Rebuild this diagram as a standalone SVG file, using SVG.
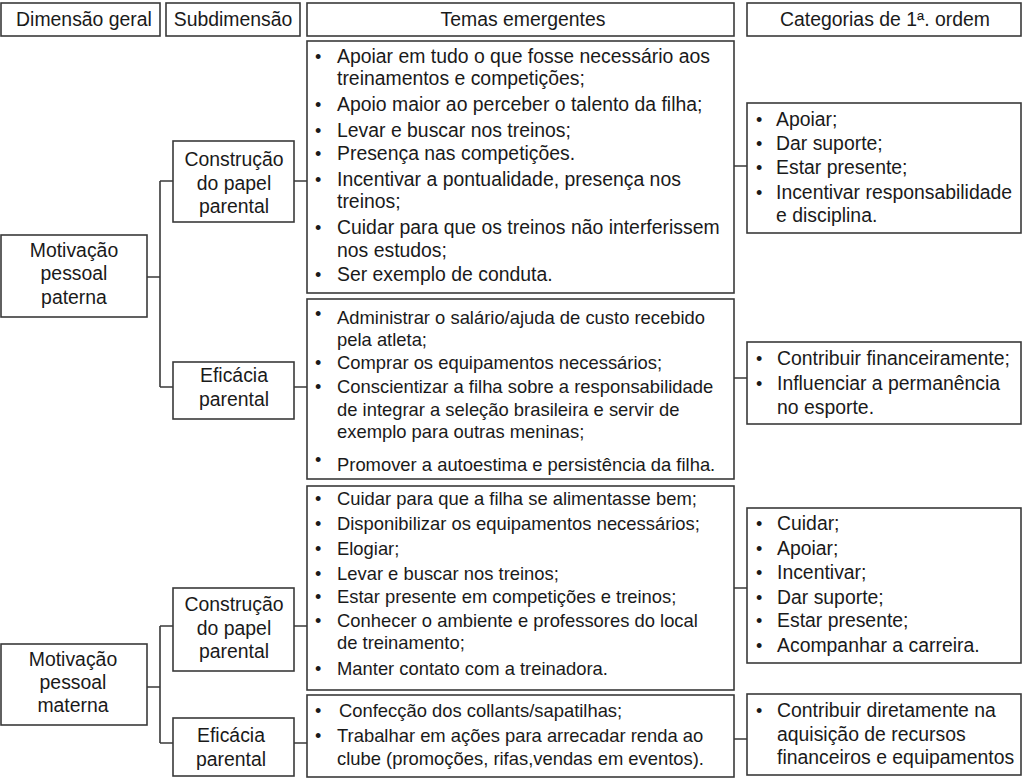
<svg xmlns="http://www.w3.org/2000/svg" width="1024" height="783" viewBox="0 0 1024 783">
<style>
.box{fill:#fff;stroke:#3a3a3a;stroke-width:1.6}
.ln{fill:none;stroke:#3a3a3a;stroke-width:1.6}
text{font-family:"Liberation Sans",Arial,Helvetica,sans-serif;font-size:19.4px;fill:#1a1a1a}
.s text{font-size:18.4px}
.c{text-anchor:middle}
text.b{font-size:18px}
</style>
<rect width="1024" height="783" fill="#fff"/>
<g id="connectors">
<path class="ln" d="M147 277H160M160 181V387M160 181H173M160 387H173"/>
<path class="ln" d="M294 181H307M294 387H307"/>
<path class="ln" d="M734 166H747M734 378H747M734 588H747M734 739H747"/>
<path class="ln" d="M147 687H160M160 626V743M160 626H173M160 743H173"/>
<path class="ln" d="M294 626H307M294 743H307"/>
</g>
<g id="h1"><rect class="box" x="1" y="3" width="159" height="33"/><text class="c" x="84" y="26">Dimensão geral</text></g>
<g id="h2"><rect class="box" x="166" y="3" width="134" height="33"/><text class="c" x="233" y="26">Subdimensão</text></g>
<g id="h3"><rect class="box" x="307" y="3" width="427" height="33"/><text class="c" x="523" y="26">Temas emergentes</text></g>
<g id="h4"><rect class="box" x="747" y="3" width="274" height="33"/><text class="c" x="885" y="26">Categorias de 1ª. ordem</text></g>

<g id="dim-paterna"><rect class="box" x="1" y="235" width="146" height="82"/>
<text class="c" x="74" y="257">Motivação</text><text class="c" x="74" y="280">pessoal</text><text class="c" x="74" y="304">paterna</text></g>
<g id="dim-materna"><rect class="box" x="1" y="644" width="146" height="81"/>
<text class="c" x="73" y="666">Motivação</text><text class="c" x="73" y="689">pessoal</text><text class="c" x="73" y="712">materna</text></g>

<g id="sub-pat-construcao"><rect class="box" x="173" y="141" width="121" height="81"/>
<text class="c" x="234" y="166">Construção</text><text class="c" x="234" y="190">do papel</text><text class="c" x="234" y="213">parental</text></g>
<g id="sub-pat-eficacia"><rect class="box" x="173" y="362" width="121" height="57"/>
<text class="c" x="234" y="382">Eficácia</text><text class="c" x="234" y="406">parental</text></g>
<g id="sub-mat-construcao"><rect class="box" x="173" y="588" width="121" height="83"/>
<text class="c" x="234" y="611">Construção</text><text class="c" x="234" y="635">do papel</text><text class="c" x="234" y="658">parental</text></g>
<g id="sub-mat-eficacia"><rect class="box" x="173" y="718" width="121" height="58"/>
<text class="c" x="231" y="742">Eficácia</text><text class="c" x="231" y="766">parental</text></g>

<g id="temas-pat-construcao"><rect class="box" x="307" y="41" width="427" height="252"/>
<text class="b" x="315" y="63">•</text><text x="337" y="63">Apoiar em tudo o que fosse necessário aos</text>
<text x="337" y="85">treinamentos e competições;</text>
<text class="b" x="315" y="111">•</text><text x="337" y="111">Apoio maior ao perceber o talento da filha;</text>
<text class="b" x="315" y="137">•</text><text x="337" y="137">Levar e buscar nos treinos;</text>
<text class="b" x="315" y="160">•</text><text x="337" y="160">Presença nas competições.</text>
<text class="b" x="315" y="186">•</text><text x="337" y="186">Incentivar a pontualidade, presença nos</text>
<text x="337" y="208">treinos;</text>
<text class="b" x="315" y="234">•</text><text x="337" y="234">Cuidar para que os treinos não interferissem</text>
<text x="337" y="257">nos estudos;</text>
<text class="b" x="315" y="281">•</text><text x="337" y="281">Ser exemplo de conduta.</text>
</g>
<g id="temas-pat-eficacia" class="s"><rect class="box" x="307" y="299" width="427" height="180"/>
<text class="b" x="315" y="320">•</text><text x="337" y="324">Administrar o salário/ajuda de custo recebido</text>
<text x="337" y="346">pela atleta;</text>
<text class="b" x="315" y="369">•</text><text x="337" y="369">Comprar os equipamentos necessários;</text>
<text class="b" x="315" y="393">•</text><text x="337" y="393">Conscientizar a filha sobre a responsabilidade</text>
<text x="337" y="416">de integrar a seleção brasileira e servir de</text>
<text x="337" y="438">exemplo para outras meninas;</text>
<text class="b" x="315" y="466">•</text><text x="337" y="471">Promover a autoestima e persistência da filha.</text>
</g>
<g id="temas-mat-construcao" class="s"><rect class="box" x="307" y="486" width="427" height="204"/>
<text class="b" x="315" y="505">•</text><text x="337" y="505">Cuidar para que a filha se alimentasse bem;</text>
<text class="b" x="315" y="530">•</text><text x="337" y="530">Disponibilizar os equipamentos necessários;</text>
<text class="b" x="315" y="555">•</text><text x="337" y="555">Elogiar;</text>
<text class="b" x="315" y="580">•</text><text x="337" y="580">Levar e buscar nos treinos;</text>
<text class="b" x="315" y="603">•</text><text x="337" y="603">Estar presente em competições e treinos;</text>
<text class="b" x="315" y="627">•</text><text x="337" y="627">Conhecer o ambiente e professores do local</text>
<text x="337" y="649">de treinamento;</text>
<text class="b" x="315" y="675">•</text><text x="337" y="675">Manter contato com a treinadora.</text>
</g>
<g id="temas-mat-eficacia" class="s"><rect class="box" x="307" y="695" width="427" height="82"/>
<text class="b" x="315" y="717">•</text><text x="339" y="717">Confecção dos collants/sapatilhas;</text>
<text class="b" x="315" y="742">•</text><text x="337" y="742">Trabalhar em ações para arrecadar renda ao</text>
<text x="337" y="765">clube (promoções, rifas,vendas em eventos).</text>
</g>

<g id="cat-pat-construcao"><rect class="box" x="747" y="103" width="274" height="130"/>
<text class="b" x="756" y="126">•</text><text x="776" y="126">Apoiar;</text>
<text class="b" x="756" y="150">•</text><text x="776" y="150">Dar suporte;</text>
<text class="b" x="756" y="174">•</text><text x="776" y="174">Estar presente;</text>
<text class="b" x="756" y="199">•</text><text x="776" y="199">Incentivar responsabilidade</text>
<text x="776" y="222">e disciplina.</text>
</g>
<g id="cat-pat-eficacia"><rect class="box" x="747" y="342" width="274" height="82"/>
<text class="b" x="756" y="365">•</text><text x="777" y="365">Contribuir financeiramente;</text>
<text class="b" x="756" y="390">•</text><text x="777" y="390">Influenciar a permanência</text>
<text x="777" y="414">no esporte.</text>
</g>
<g id="cat-mat-construcao"><rect class="box" x="747" y="508" width="274" height="155"/>
<text class="b" x="756" y="530">•</text><text x="777" y="530">Cuidar;</text>
<text class="b" x="756" y="555">•</text><text x="777" y="555">Apoiar;</text>
<text class="b" x="756" y="579">•</text><text x="777" y="579">Incentivar;</text>
<text class="b" x="756" y="604">•</text><text x="777" y="604">Dar suporte;</text>
<text class="b" x="756" y="627">•</text><text x="777" y="627">Estar presente;</text>
<text class="b" x="756" y="652">•</text><text x="777" y="652">Acompanhar a carreira.</text>
</g>
<g id="cat-mat-eficacia"><rect class="box" x="747" y="694" width="274" height="81"/>
<text class="b" x="756" y="717">•</text><text x="777" y="717">Contribuir diretamente na</text>
<text x="777" y="741">aquisição de recursos</text>
<text x="777" y="764">financeiros e equipamentos</text>
</g>
</svg>
